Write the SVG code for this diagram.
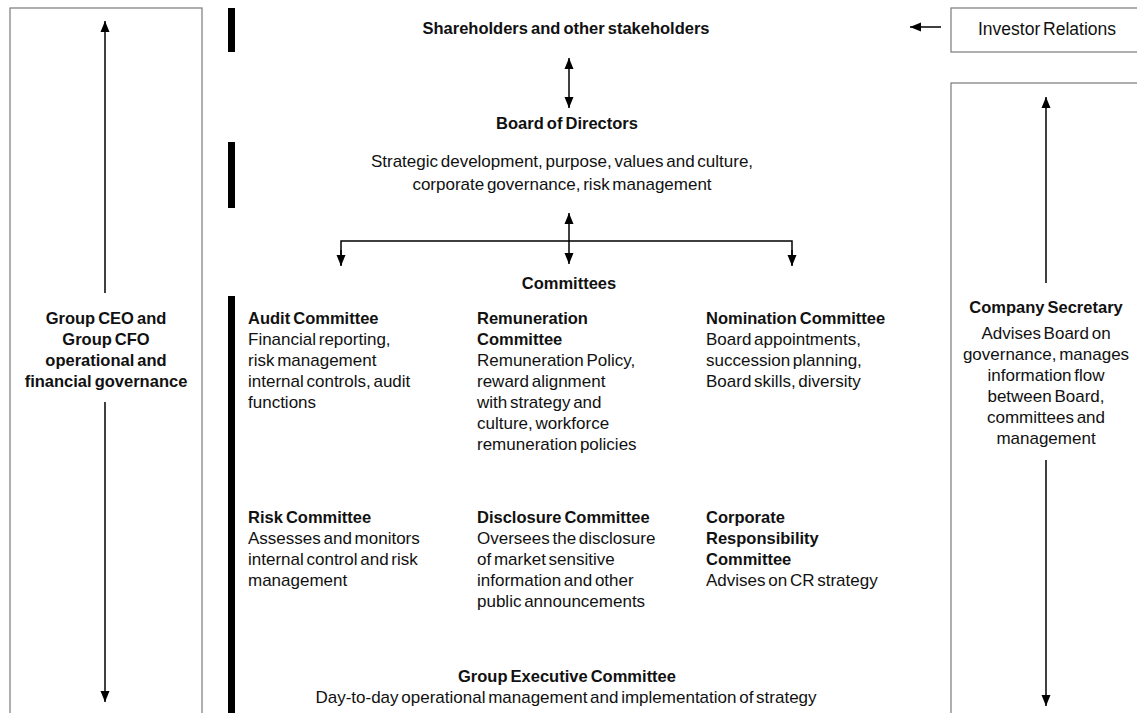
<svg xmlns="http://www.w3.org/2000/svg" width="1137" height="713" viewBox="0 0 1137 713">
<defs>
<style>
text{font-family:"Liberation Sans",Arial,sans-serif;fill:#111;font-size:17px;word-spacing:-2px}
.b{font-weight:bold;font-size:16.5px;word-spacing:-1.5px}
.c{text-anchor:middle}
.box{fill:none;stroke:#7a7a7a;stroke-width:1.2}
.bar{fill:#000}
.ln{fill:none;stroke:#000;stroke-width:1.5}
.arr{marker-end:url(#ah)}
.dbl{marker-start:url(#ah);marker-end:url(#ah)}
</style>
<marker id="ah" markerUnits="userSpaceOnUse" markerWidth="12" markerHeight="12" viewBox="0 0 12 12" refX="11" refY="6" orient="auto-start-reverse">
<path d="M0,1.5 L11,6 L0,10.5 Z" fill="#000"/>
</marker>
</defs>
<rect width="1137" height="713" fill="#fff"/>

<g id="bars">
<rect class="bar" x="228" y="8" width="7" height="44"/>
<rect class="bar" x="228" y="142" width="7" height="66"/>
<rect class="bar" x="228" y="296" width="7" height="420"/>
</g>

<g id="connectors">
<line class="ln dbl" x1="569" y1="58" x2="569" y2="108"/>
<line class="ln dbl" x1="569" y1="213" x2="569" y2="264"/>
<polyline class="ln" points="341,265 341,241 792,241 792,265"/>
<line class="ln arr" x1="341" y1="250" x2="341" y2="266"/>
<line class="ln arr" x1="792" y1="250" x2="792" y2="266"/>
<line class="ln arr" x1="941" y1="27" x2="910" y2="27"/>
<line class="ln arr" x1="105" y1="293" x2="105" y2="21"/>
<line class="ln arr" x1="105" y1="402" x2="105" y2="702"/>
<line class="ln arr" x1="1046" y1="283" x2="1046" y2="97"/>
<line class="ln arr" x1="1046" y1="460" x2="1046" y2="706"/>
</g>

<g id="shareholders"><text class="b c" x="566" y="34">Shareholders and other stakeholders</text></g>

<g id="investor-relations">
<rect class="box" x="951" y="8" width="200" height="44"/>
<text class="c" x="1047" y="35" style="font-size:17.5px">Investor Relations</text>
</g>

<g id="board">
<text class="b c" x="567" y="129">Board of Directors</text>
<text class="c" x="562" y="167">Strategic development, purpose, values and culture,</text>
<text class="c" x="562" y="190">corporate governance, risk management</text>
</g>

<g id="committees"><text class="b c" x="569" y="289">Committees</text></g>

<g id="ceo-cfo">
<rect class="box" x="10" y="8" width="192" height="720"/>
<text class="b c" x="106" y="324">Group CEO and</text>
<text class="b c" x="106" y="345">Group CFO</text>
<text class="b c" x="106" y="366">operational and</text>
<text class="b c" x="106" y="387">financial governance</text>
</g>

<g id="company-secretary">
<rect class="box" x="951" y="83" width="200" height="640"/>
<text class="b c" x="1046" y="313">Company Secretary</text>
<text class="c" x="1046" y="339">Advises Board on</text>
<text class="c" x="1046" y="360">governance, manages</text>
<text class="c" x="1046" y="381">information flow</text>
<text class="c" x="1046" y="402">between Board,</text>
<text class="c" x="1046" y="423">committees and</text>
<text class="c" x="1046" y="444">management</text>
</g>

<g id="audit">
<text class="b" x="248" y="324">Audit Committee</text>
<text x="248" y="345">Financial reporting,</text>
<text x="248" y="366">risk management</text>
<text x="248" y="387">internal controls, audit</text>
<text x="248" y="408">functions</text>
</g>

<g id="remuneration">
<text class="b" x="477" y="324">Remuneration</text>
<text class="b" x="477" y="345">Committee</text>
<text x="477" y="366">Remuneration Policy,</text>
<text x="477" y="387">reward alignment</text>
<text x="477" y="408">with strategy and</text>
<text x="477" y="429">culture, workforce</text>
<text x="477" y="450">remuneration policies</text>
</g>

<g id="nomination">
<text class="b" x="706" y="324">Nomination Committee</text>
<text x="706" y="345">Board appointments,</text>
<text x="706" y="366">succession planning,</text>
<text x="706" y="387">Board skills, diversity</text>
</g>

<g id="risk">
<text class="b" x="248" y="523">Risk Committee</text>
<text x="248" y="544">Assesses and monitors</text>
<text x="248" y="565">internal control and risk</text>
<text x="248" y="586">management</text>
</g>

<g id="disclosure">
<text class="b" x="477" y="523">Disclosure Committee</text>
<text x="477" y="544">Oversees the disclosure</text>
<text x="477" y="565">of market sensitive</text>
<text x="477" y="586">information and other</text>
<text x="477" y="607">public announcements</text>
</g>

<g id="corporate-responsibility">
<text class="b" x="706" y="523">Corporate</text>
<text class="b" x="706" y="544">Responsibility</text>
<text class="b" x="706" y="565">Committee</text>
<text x="706" y="586">Advises on CR strategy</text>
</g>

<g id="group-executive">
<text class="b c" x="567" y="682">Group Executive Committee</text>
<text class="c" x="566" y="703">Day-to-day operational management and implementation of strategy</text>
</g>
</svg>
